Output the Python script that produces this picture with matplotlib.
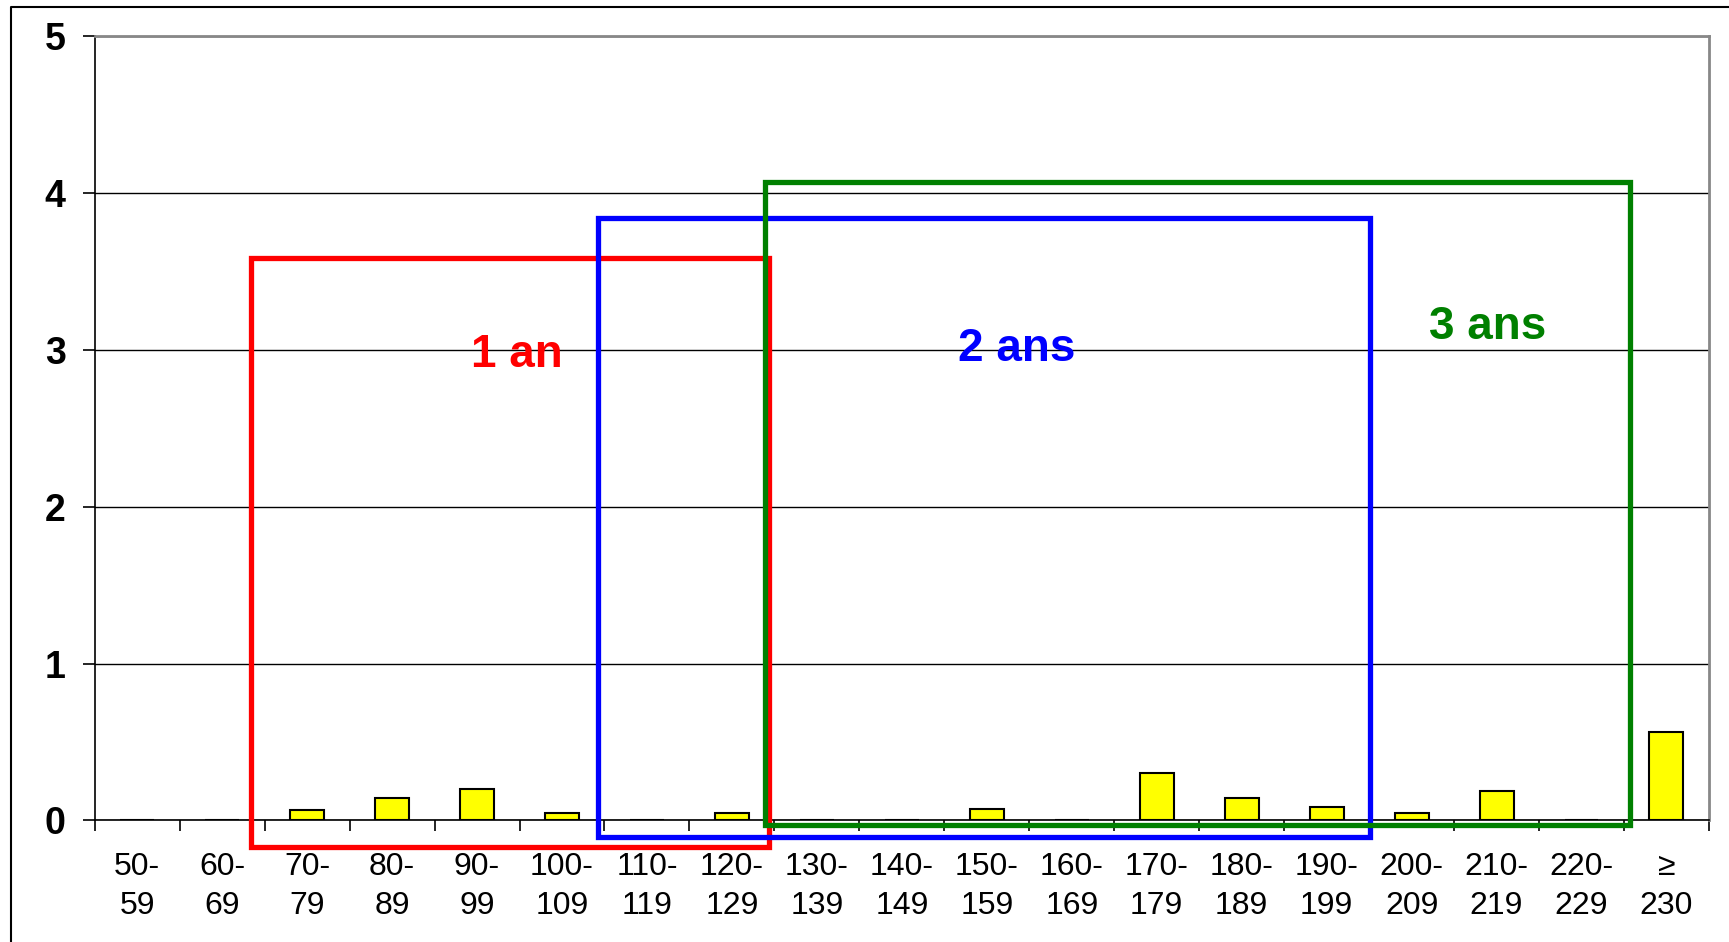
import matplotlib
matplotlib.use("Agg")
import matplotlib.pyplot as plt
from matplotlib.patches import Rectangle
from matplotlib.lines import Line2D

# categories and values
categories = ["50-\n59", "60-\n69", "70-\n79", "80-\n89", "90-\n99", "100-\n109",
              "110-\n119", "120-\n129", "130-\n139", "140-\n149", "150-\n159",
              "160-\n169", "170-\n179", "180-\n189", "190-\n199", "200-\n209",
              "210-\n219", "220-\n229", "\u2265\n230"]
values = [0, 0, 0.065, 0.14, 0.2, 0.045, 0, 0.045, 0, 0, 0.075, 0, 0.3,
          0.14, 0.085, 0.045, 0.19, 0, 0.565]

# age boxes: (label, x0, x1, y0, y1, text x, text y, colour)
box_labels = ["1 an", "2 ans", "3 ans"]
box_x = [(1.345, 7.436), (5.423, 14.515), (7.384, 17.567)]
box_y = [(-0.169, 3.587), (-0.106, 3.84), (-0.028, 4.072)]
text_pos = [(4.47, 2.97), (10.35, 3.005), (15.9, 3.145)]
box_colors = ["#FF0000", "#0000FF", "#008000"]

plt.rcParams['font.family'] = ['Liberation Sans', 'DejaVu Sans']

fig = plt.figure(figsize=(17.29, 9.42), dpi=100)
ax = fig.add_axes([0.0548, 0.1291, 0.9336, 0.8323])

n = len(categories)
x = list(range(n))
ax.bar(x, values, width=0.4, color="#FFFF00", edgecolor="black", linewidth=1.5, zorder=3)

ax.set_xlim(-0.5, n - 0.5)
ax.set_ylim(0, 5)
ax.set_yticks([0, 1, 2, 3, 4, 5])
ax.set_yticklabels(["0", "1", "2", "3", "4", "5"], fontsize=27, fontweight="bold")
ax.tick_params(axis="y", length=9, width=1.2, pad=12)

# labels at centres, tick marks at category boundaries
ax.set_xticks(x)
ax.set_xticklabels(categories, fontsize=23, linespacing=1.36)
ax.tick_params(axis="x", which="major", length=0, pad=23)
ax.set_xticks([i - 0.5 for i in range(n + 1)], minor=True)
ax.tick_params(axis="x", which="minor", length=8, width=1.2, color="black")

ax.yaxis.grid(True, color="black", linewidth=1.0)
ax.set_axisbelow(True)
ax.spines["top"].set_color("#888888")
ax.spines["top"].set_linewidth(2)
ax.spines["right"].set_color("#888888")
ax.spines["right"].set_linewidth(2)
ax.spines["left"].set_linewidth(1.2)
ax.spines["bottom"].set_linewidth(1.2)

for i in range(len(box_labels)):
    x0, x1 = box_x[i]
    y0, y1 = box_y[i]
    r = Rectangle((x0, y0), x1 - x0, y1 - y0, fill=False, edgecolor=box_colors[i],
                  linewidth=3.8, clip_on=False, zorder=5)
    ax.add_patch(r)
    ax.text(text_pos[i][0], text_pos[i][1], box_labels[i], color=box_colors[i],
            fontsize=33, fontweight="bold", ha="center", va="center", zorder=6)

# outer frame of the original chart object
fig.add_artist(Line2D([11 / 1729, 11 / 1729, 1.01], [-0.01, 1 - 7 / 942, 1 - 7 / 942],
                      color="black", linewidth=1.5))

fig.savefig("out.png", dpi=100)
